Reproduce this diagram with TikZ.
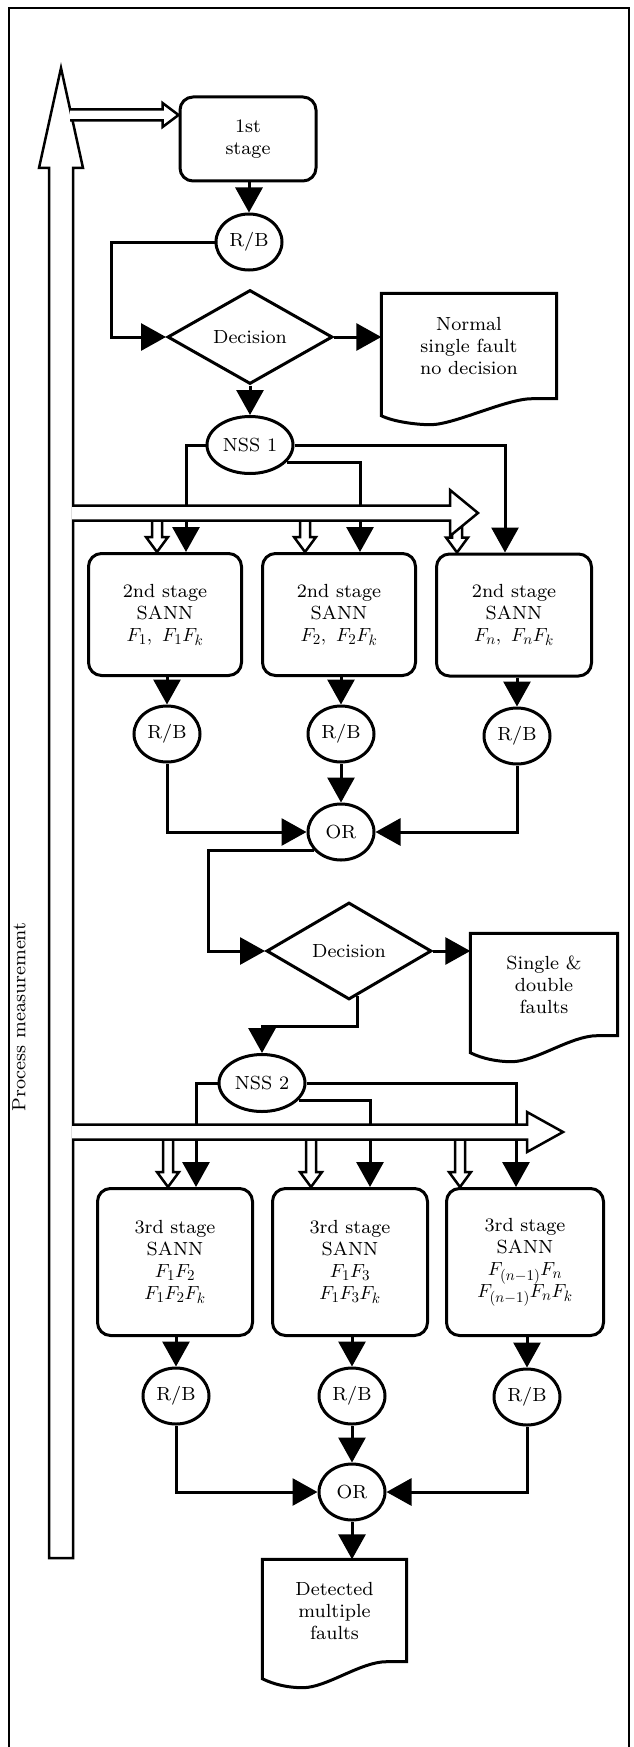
\documentclass[tikz,border=0pt]{standalone}
\usepackage{fontspec}
\setmainfont{lmroman8-regular.otf}
% scalable math fonts
\DeclareFontShape{OML}{cmm}{m}{it}{<->cmmi10}{}
\DeclareFontShape{OMS}{cmsy}{m}{n}{<->cmsy10}{}
\DeclareFontShape{OT1}{cmr}{m}{n}{<->cmr10}{}
\DeclareMathSizes{19}{19}{15}{11}
\usepackage{tikz}
\usetikzlibrary{shapes.geometric,arrows.meta,calc}

% hollow block arrows: from #1 to tip #2
\newcommand{\hollowright}[5]{%
  \draw[hollow] let \p1=(#1), \p2=(#2) in
    (\x1,\y2+#3) -- (\x2-#5,\y2+#3) -- (\x2-#5,\y2+#4) -- (\x2,\y2)
    -- (\x2-#5,\y2-#4) -- (\x2-#5,\y2-#3) -- (\x1,\y2-#3);}
\newcommand{\hollowdown}[2]{%
  \draw[hollow] let \p1=(#1), \p2=(#2) in
    (\x2-5pt,\y1) -- (\x2-5pt,\y2+15pt) -- (\x2-11pt,\y2+15pt) -- (\x2,\y2)
    -- (\x2+11pt,\y2+15pt) -- (\x2+5pt,\y2+15pt) -- (\x2+5pt,\y1);}
% document outline round a node
\newcommand{\docshape}[1]{%
  \draw[boxline] (#1.south east) -- (#1.north east) -- (#1.north west)
    -- ([yshift=-17pt]#1.south west)
    .. controls +(12pt,-6pt) and +(-14pt,0pt) .. ($(#1.south west)!0.28!(#1.south east)+(0pt,-26pt)$)
    .. controls +(24pt,0pt) and +(-26pt,0pt) .. ($(#1.south west)!0.86!(#1.south east)$)
    -- cycle;}

\begin{document}
\begin{tikzpicture}[x=1pt, y=-1pt, font=\fontsize{19}{22}\selectfont,
  boxline/.style={line width=3pt},
  stagebox/.style={draw, line width=3pt, rounded corners=13pt, align=center, inner sep=0pt},
  rb/.style={draw, ellipse, line width=3pt, minimum width=66pt, minimum height=56pt, inner sep=0pt},
  nss/.style={draw, ellipse, line width=3pt, minimum width=86pt, minimum height=57pt, inner sep=0pt},
  decision/.style={draw, diamond, line width=3pt, minimum width=165pt, minimum height=94pt, inner sep=0pt},
  doc/.style={align=center, inner sep=0pt},
  conn/.style={line width=3pt, -{Triangle[length=25pt,width=27pt]}},
  hollow/.style={line width=2.5pt, fill=white, line join=miter}]
\useasboundingbox (0,0) rectangle (634,1747);

% Frame
\draw[line width=1.2pt] (9,1747) -- (9,8) -- (629,8) -- (629,1747);

% Process measurement
\draw[hollow] (49,1558) -- (49,168) -- (39,168) -- (61,68) -- (83,168) -- (73,168) -- (73,1558) -- cycle;
\node[rotate=90] (meas) at (19,1017) {Process measurement};

% First stage
\node[stagebox, minimum width=136pt, minimum height=84pt] (stage1) at (248,139) {1st\\stage};
\node[rb] (rb0) at (249,242) {R/B};
\node[decision] (dec1) at (250,337) {Decision};
\node[doc, minimum width=175pt, minimum height=105pt] (out1) at (469,346) {Normal\\single fault\\no decision};
\docshape{out1}
\node[nss] (nss1) at (250,445) {NSS 1};

\coordinate (m1) at (70,115);
\hollowright{m1}{[yshift=24pt]stage1.west}{5.5pt}{12pt}{16pt}

\draw[conn] (stage1.south -| rb0) -- (rb0);
\draw[conn] (rb0.west) -| ([xshift=-55pt]dec1.west) -- (dec1.west);
\draw[conn] (dec1.east) -- (dec1.east -| out1.west);
\draw[conn] (dec1) -- (nss1);

% Second stage
\node[stagebox, minimum width=153pt, minimum height=122pt] (b21) at (165,614.5) {2nd stage\\SANN\\$F_1,\ F_1F_k$};
\node[stagebox, minimum width=153pt, minimum height=122pt] (b22) at (339,614.5) {2nd stage\\SANN\\$F_2,\ F_2F_k$};
\node[stagebox, minimum width=155pt, minimum height=122pt] (b23) at (514,615) {2nd stage\\SANN\\$F_n,\ F_nF_k$};

\draw[conn] (nss1.west) -| ([xshift=21pt]b21.north);
\draw[conn] (nss1.-25) -| ([xshift=21pt]b22.north);
\draw[conn] (nss1.east) -| ([xshift=-9pt]b23.north);

\coordinate (bus1) at (72,513);
\coordinate (bus1end) at (478,513);
\hollowdown{bus1}{[xshift=-8pt]b21.north}
\hollowdown{bus1}{[xshift=-34pt]b22.north}
\hollowdown{bus1}{[xshift=-57pt]b23.north}
\hollowright{bus1}{bus1end}{7.5pt}{23pt}{28pt}

\node[rb] (rb21) at (167,734) {R/B};
\node[rb] (rb22) at (341,734) {R/B};
\node[rb] (rb23) at (517,736) {R/B};
\node[rb] (or1) at (341,832) {OR};

\draw[conn] (b21.south -| rb21) -- (rb21);
\draw[conn] (b22.south -| rb22) -- (rb22);
\draw[conn] (b23.south -| rb23) -- (rb23);
\draw[conn] (rb21.south) |- (or1.west);
\draw[conn] (rb22) -- (or1);
\draw[conn] (rb23.south) |- (or1.east);

% Second decision
\node[decision, minimum height=97pt] (dec2) at (349,951) {Decision};
\node[doc, minimum width=147pt, minimum height=102pt] (out2) at (544,984.5) {Single \&\\double\\faults};
\docshape{out2}
\node[nss] (nss2) at (262,1083) {NSS 2};

\draw[conn] (or1.215) -| ([xshift=-57pt]dec2.west) -- (dec2.west);
\draw[conn] (dec2.east) -- (dec2.east -| out2.west);
\draw[conn] ($(dec2.south)!0.1!(dec2.east)$) -- ++(0,30) -| (nss2.north);

% Third stage
\node[stagebox, minimum width=155pt, minimum height=147pt] (b31) at (175,1262) {3rd stage\\SANN\\$F_1F_2$\\$F_1F_2F_k$};
\node[stagebox, minimum width=155pt, minimum height=147pt] (b32) at (350,1262) {3rd stage\\SANN\\$F_1F_3$\\$F_1F_3F_k$};
\node[stagebox, minimum width=157pt, minimum height=147pt] (b33) at (525,1262) {3rd stage\\SANN\\$F_{(n-1)}F_n$\\$F_{(n-1)}F_nF_k$};

\draw[conn] (nss2.west) -| ([xshift=21pt]b31.north);
\draw[conn] (nss2.-25) -| ([xshift=20pt]b32.north);
\draw[conn] (nss2.east) -| ([xshift=-9pt]b33.north);

\coordinate (bus2) at (72,1132);
\coordinate (bus2end) at (563,1132);
\hollowdown{bus2}{[xshift=-7pt]b31.north}
\hollowdown{bus2}{[xshift=-39pt]b32.north}
\hollowdown{bus2}{[xshift=-65pt]b33.north}
\hollowright{bus2}{bus2end}{7.5pt}{20pt}{36pt}

\node[rb] (rb31) at (176,1396) {R/B};
\node[rb] (rb32) at (352,1396) {R/B};
\node[rb] (rb33) at (527,1397) {R/B};
\node[rb] (or2) at (352,1492) {OR};

\draw[conn] (b31.south -| rb31) -- (rb31);
\draw[conn] (b32.south -| rb32) -- (rb32);
\draw[conn] (b33.south -| rb33) -- (rb33);
\draw[conn] (rb31.south) |- (or2.west);
\draw[conn] (rb32) -- (or2);
\draw[conn] (rb33.south) |- (or2.east);

% Result
\node[doc, minimum width=144pt, minimum height=102pt] (out3) at (334.5,1610.5) {Detected\\multiple\\faults};
\docshape{out3}
\draw[conn] (or2.south) -- (or2.south |- out3.north);
\end{tikzpicture}
\end{document}
